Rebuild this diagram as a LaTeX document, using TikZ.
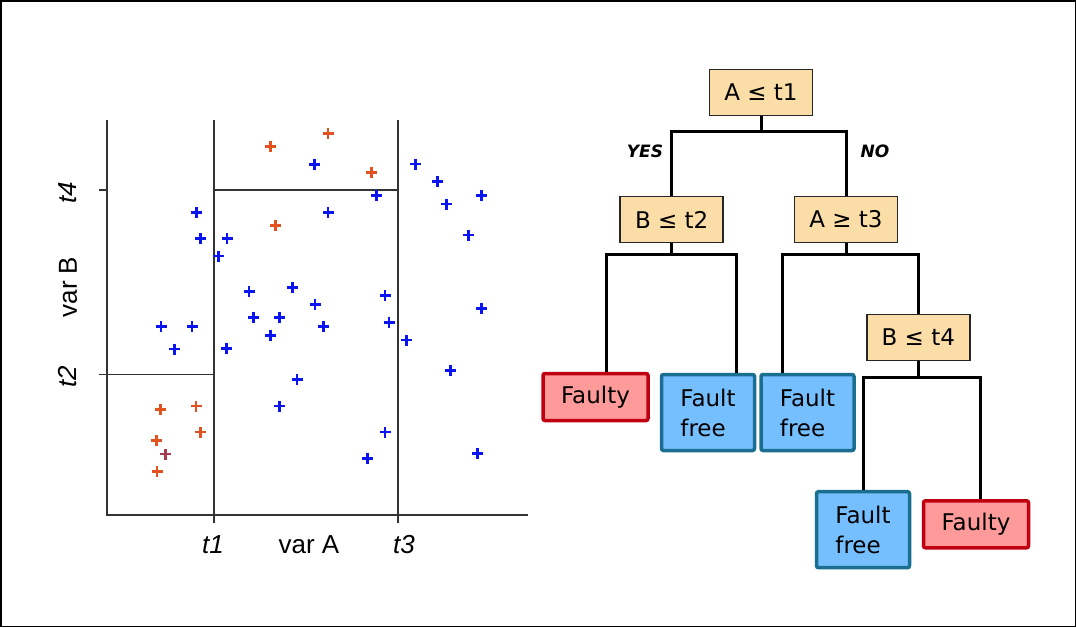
\documentclass[tikz,border=0pt]{standalone}
\usepackage{fontspec}
\setmainfont{Liberation Sans}
\newfontfamily\treefont{DejaVu Sans}
\usetikzlibrary{calc}
\definecolor{ptblue}{HTML}{0A14F0}
\definecolor{ptorange}{HTML}{E2521E}
\definecolor{ptmix}{HTML}{A83A4E}
\definecolor{axisgray}{HTML}{333333}
\definecolor{condfill}{HTML}{FBDDA8}
\definecolor{redfill}{HTML}{FF9A9A}
\definecolor{redline}{HTML}{C00010}
\definecolor{bluefill}{HTML}{75BFFF}
\definecolor{blueline}{HTML}{1A6E90}
\tikzset{
  axisline/.style={draw=axisgray, line width=1.6pt},
  axislabel/.style={font=\fontsize{26}{30}\selectfont, inner sep=0pt},
  ptb/.style={draw=ptblue, line width=2.8pt},
  pto/.style={draw=ptorange, line width=2.8pt},
  ptm/.style={draw=ptmix, line width=2.8pt},
  cond/.style={draw=black!85, line width=1.5pt, fill=condfill, minimum width=103pt, minimum height=46pt, font=\treefont\fontsize{23}{30}\selectfont, inner sep=0pt},
  leafred/.style={draw=redline, line width=3.5pt, fill=redfill, rounded corners=2pt, minimum width=105pt, minimum height=47pt, font=\treefont\fontsize{23}{30}\selectfont, inner sep=0pt},
  leafblue/.style={draw=blueline, line width=3.5pt, fill=bluefill, rounded corners=2pt, minimum width=93pt, minimum height=76pt, align=left, font=\treefont\fontsize{23}{30}\selectfont, inner sep=0pt},
  conn/.style={draw=black, line width=3pt},
  yesno/.style={font=\treefont\bfseries\itshape\fontsize{17}{20}\selectfont, inner sep=0pt}
}
\begin{document}
\begin{tikzpicture}[x=1pt,y=-1pt]
\useasboundingbox (0,0) rectangle (1076,627);
\draw[line width=1.5pt] (0.75,0.75) rectangle (1075.25,626.25);

% ---- scatter plot ----
\draw[axisline] (107,120) -- (107,515) -- (528,515);
\draw[axisline] (213.7,120) -- (213.7,523);
\draw[axisline] (397.7,120) -- (397.7,523);
\draw[axisline] (99,190) -- (107,190);
\draw[axisline] (99,374.3) -- (213.7,374.3);
\draw[axisline] (213.7,190) -- (397.7,190);

\node[axislabel, rotate=90] (lt4) at (68,192.5) {\itshape t4};
\node[axislabel, rotate=90] (lvb) at (68,287) {var B};
\node[axislabel, rotate=90] (lt2) at (68,377) {\itshape t2};
\node[axislabel] (lt1) at (213,545) {\itshape t1};
\node[axislabel] (lva) at (309,545) {var A};
\node[axislabel] (lt3) at (404,545) {\itshape t3};

\foreach \px/\py in {314.3/164.3, 196.3/212.7, 200.7/238.7, 227/238.7, 218.3/256,
  249/291.7, 292.7/287.3, 315/304.3, 415.7/164, 437.3/181.7, 481.3/195.3,
  376.3/195.3, 446.3/204, 328/212.7, 468.3/235, 385/295.7, 481.3/308.8,
  161/326.7, 192/326.7, 174.3/349, 226.3/348.3, 253.3/317.7, 279.3/317.7,
  270.7/335.3, 297/379.3, 279.3/406, 323.3/326.7, 389/322.3, 406.7/340,
  450.3/370.3, 385/432, 367.3/458.3, 477.3/453.7}
  \draw[ptb] (\px-5.5,\py) -- (\px+5.5,\py) (\px,\py-5.5) -- (\px,\py+5.5);
\foreach \px/\py in {270.7/146.7, 275.7/225.7, 328/133.3, 371.7/172.7,
  160.7/409.3, 196/406, 200.3/432, 156.7/440.7, 157/471.7}
  \draw[pto] (\px-5.5,\py) -- (\px+5.5,\py) (\px,\py-5.5) -- (\px,\py+5.5);
\draw[ptm] (160.2,454) -- (171.2,454) (165.7,448.5) -- (165.7,459.5);

% ---- decision tree ----
\node[cond] (root) at (761,92.5) {A ≤ t1};
\node[cond] (nb2) at (671.7,219.5) {B ≤ t2};
\node[cond] (na3) at (846,219.5) {A ≥ t3};
\node[cond] (nb4) at (918.3,337.5) {B ≤ t4};
\node[leafred] (fy1) at (595.5,397) {Faulty};
\node[leafblue] (ff1) at (708,412.5) {Fault\\free};
\node[leafblue] (ff2) at (807.5,412.5) {Fault\\free};
\node[leafblue] (ff3) at (863,529.7) {Fault\\free};
\node[leafred] (fy2) at (976,524.3) {Faulty};

\draw[conn] (root.south) -- ++(0,15) -| (nb2.north);
\draw[conn] (root.south) -- ++(0,15) -| (na3.north);
\draw[conn] (nb2.south) -- ++(0,11) -| ([xshift=11.2pt]fy1.north);
\draw[conn] (nb2.south) -- ++(0,11) -| ([xshift=28.3pt]ff1.north);
\draw[conn] (na3.south) -- ++(0,11) -| ([xshift=-25.2pt]ff2.north);
\draw[conn] (na3.south) -- ++(0,11) -| (nb4.north);
\draw[conn] (nb4.south) -- ++(0,16.7) -| (ff3.north);
\draw[conn] (nb4.south) -- ++(0,16.7) -| ([xshift=4.7pt]fy2.north);

\node[yesno] (yes) at (645,151) {YES};
\node[yesno] (no) at (875,151) {NO};
\end{tikzpicture}
\end{document}
